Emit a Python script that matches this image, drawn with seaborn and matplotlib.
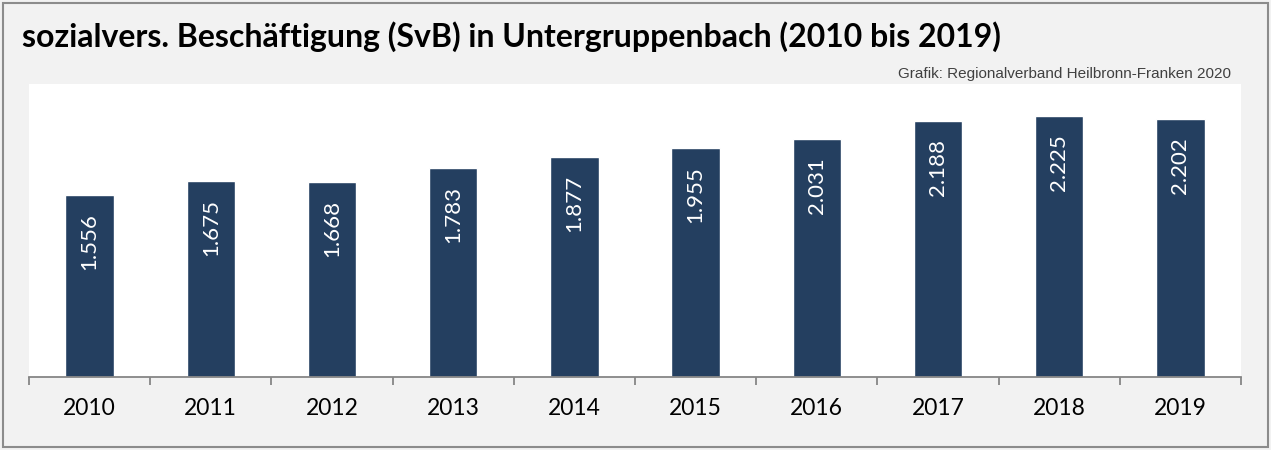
import matplotlib
matplotlib.use("Agg")
import matplotlib.pyplot as plt
import seaborn as sns
import pandas as pd
from matplotlib.patches import Rectangle

years = ["2010", "2011", "2012", "2013", "2014", "2015", "2016", "2017", "2018", "2019"]
values = [1556, 1675, 1668, 1783, 1877, 1955, 2031, 2188, 2225, 2202]
title = "sozialvers. Beschäftigung (SvB) in Untergruppenbach (2010 bis 2019)"
source = "Grafik: Regionalverband Heilbronn-Franken 2020"

df = pd.DataFrame({"Jahr": years, "SvB": values})

sns.set_theme(style="white")
plt.rcParams["font.family"] = ["Lato", "DejaVu Sans"]

W, H = 1271, 450
fig = plt.figure(figsize=(W / 100, H / 100), dpi=100)
fig.patch.set_facecolor("#f2f2f2")

ax = fig.add_axes([29 / W, 1 - 377 / H, (1241 - 29) / W, (377 - 84) / H])
ax.set_facecolor("white")

sns.barplot(data=df, x="Jahr", y="SvB", color="#243F60", width=0.4,
            saturation=1, ax=ax)

ax.set_ylim(0, 2500)
ax.set_xlim(-0.5, len(years) - 0.5)
ax.set_xlabel("")
ax.set_ylabel("")
ax.set_yticks([])

for s in ["top", "right", "left"]:
    ax.spines[s].set_visible(False)
ax.spines["bottom"].set_color("#868686")
ax.spines["bottom"].set_linewidth(1.3)

ax.set_xticks([i - 0.5 for i in range(len(years) + 1)], minor=True)
ax.tick_params(axis="x", which="major", bottom=True, length=0, pad=15,
               labelsize=16.5, labelcolor="black")
ax.tick_params(axis="x", which="minor", bottom=True, length=6, width=1.3,
               color="#868686", direction="out")

for i, v in enumerate(values):
    ax.annotate(f"{v:,}".replace(",", "."), xy=(i, v), xytext=(0, -13),
                textcoords="offset points", rotation=90, ha="center", va="top",
                color="white", fontsize=16)

fig.text(22 / W, 1 - 47 / H, title, fontsize=23, fontweight="bold",
         ha="left", va="baseline", color="black")
fig.text(1231 / W, 1 - 78 / H, source, fontsize=11, ha="right", va="baseline",
         color="#404040", family=["Liberation Sans", "DejaVu Sans"])

fig.add_artist(Rectangle((3 / W, 3 / H), (1268 - 3) / W, (447 - 3) / H,
                         transform=fig.transFigure, fill=False,
                         edgecolor="#8c8c8c", linewidth=1.5))

fig.savefig("out.png", dpi=100, facecolor=fig.get_facecolor())
